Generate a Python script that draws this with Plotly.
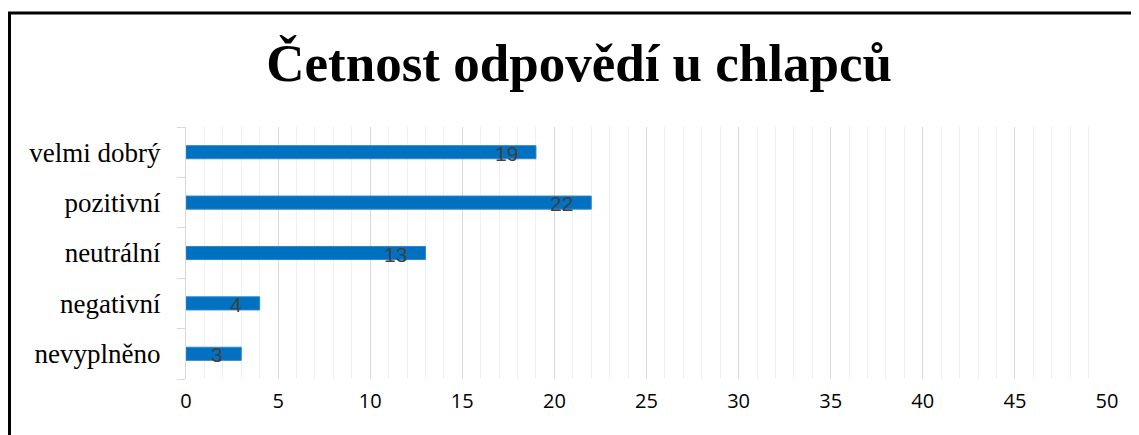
import plotly.graph_objects as go

categories = ["velmi dobrý", "pozitivní", "neutrální", "negativní", "nevyplněno"]
values = [19, 22, 13, 4, 3]
x_ticks = [0, 5, 10, 15, 20, 25, 30, 35, 40, 45, 50]
title_text = "Četnost odpovědí u chlapců"

fig = go.Figure()
fig.add_trace(go.Bar(
    y=categories, x=values, orientation="h",
    marker=dict(color="#0070C0", line=dict(color="#2f86c9", width=1)),
    width=0.26,
    hoverinfo="skip",
))

for c, v in zip(categories, values):
    fig.add_annotation(
        x=v, y=c, xref="x", yref="y", text=str(v), showarrow=False,
        xanchor="right", xshift=-16, yshift=-1,
        font=dict(family="Liberation Sans, Arial", size=21, color="#404040"),
    )

# page body has an 8px margin; compensate so the plot lands where the reference has it
L, T, PW, PH = 178, 119, 921, 252
W, H = 1131, 427

fig.update_layout(
    width=W, height=H,
    margin=dict(l=L, r=W - L - PW, t=T, b=H - T - PH),
    paper_bgcolor="white", plot_bgcolor="white",
    showlegend=False,
    title=dict(
        text="<b>" + title_text + "</b>",
        x=0.505, xref="container", xanchor="center",
        y=0.873, yref="container", yanchor="middle",
        font=dict(family="Liberation Serif, Times New Roman", size=53, color="black"),
    ),
    xaxis=dict(
        range=[0, 50], tickvals=x_ticks, ticktext=[str(t) for t in x_ticks],
        showgrid=True, gridcolor="#d9d9d9", gridwidth=1,
        minor=dict(dtick=1, showgrid=True, gridcolor="#f0f0f0", gridwidth=1),
        zeroline=False, showline=False, ticks="",
        tickfont=dict(family="Open Sans, Liberation Sans", size=20, color="black"),
        ticklabelstandoff=8,
        fixedrange=True,
    ),
    yaxis=dict(
        categoryorder="array", categoryarray=categories[::-1],
        showline=True, linecolor="#d9d9d9", linewidth=1,
        ticks="outside", tickson="boundaries", ticklen=8, tickcolor="#d9d9d9",
        showgrid=False, zeroline=False,
        tickfont=dict(family="Liberation Serif, Times New Roman", size=27, color="black"),
        ticklabelstandoff=19,
        fixedrange=True,
    ),
    shapes=[dict(
        type="rect", xref="paper", yref="paper",
        x0=(1.5 - L) / PW, x1=1.3, y0=-1.0, y1=(T + PH - 5) / PH,
        line=dict(color="black", width=3), fillcolor="rgba(0,0,0,0)",
        layer="above",
    )],
)

fig.write_html("out.html")
